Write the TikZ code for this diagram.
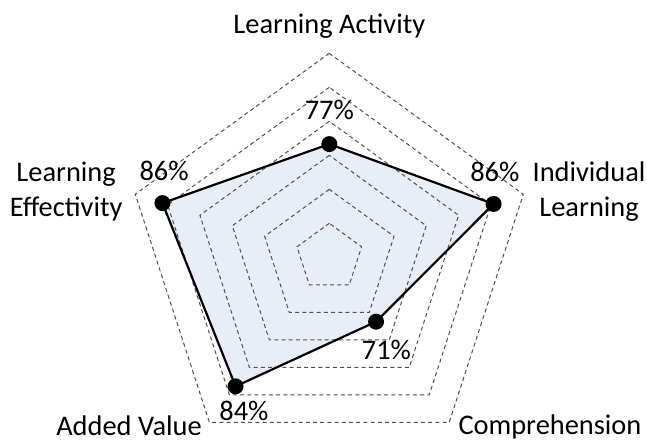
\documentclass[tikz,border=0pt]{standalone}
\usepackage{fontspec}
\setmainfont{Carlito}
\usepackage{tikz}
\usetikzlibrary{positioning}

\definecolor{areablue}{RGB}{232,237,248}
\definecolor{ringgray}{RGB}{80,80,80}

\begin{document}
\begin{tikzpicture} [x=17pt,y=17pt,
		ring/.style={draw=ringgray,line width=0.5pt,dash pattern=on 2pt off 1.6pt},
		area/.style={draw=black,line width=1.1pt,line join=miter},
		dot/.style={circle,fill=black,inner sep=0pt,minimum size=8pt},
		lbl/.style={font=\fontsize{14.2}{17.5}\selectfont,inner sep=0pt,align=center}]
		
		\useasboundingbox (-9.685,-5.403) rectangle (9.344,7.568);
		
		% Values on the axes
		\coordinate (pAct) at (90:3.33);	% learning activity
		\coordinate (pInd) at (18:5.08);	% individual learning
		\coordinate (pCom) at (306:2.34);	% comprehension
		\coordinate (pAdd) at (234:4.69);	% added value
		\coordinate (pEff) at (162:5.16);	% learning effectivity
		
		% Filled area (under the rings)
		\fill [areablue] (pAct) -- (pInd) -- (pCom) -- (pAdd) -- (pEff) -- cycle;
		
		% Rings - one per level
		\draw [ring] (90:1) -- (162:1) -- (234:1) -- (306:1) -- (18:1) -- cycle; % level 1
		\draw [ring] (90:2) -- (162:2) -- (234:2) -- (306:2) -- (18:2) -- cycle; % level 2
		\draw [ring] (90:3) -- (162:3) -- (234:3) -- (306:3) -- (18:3) -- cycle; % level 3
		\draw [ring] (90:4) -- (162:4) -- (234:4) -- (306:4) -- (18:4) -- cycle; % level 4
		\draw [ring] (90:5) -- (162:5) -- (234:5) -- (306:5) -- (18:5) -- cycle; % level 5
		\draw [ring] (90:6) -- (162:6) -- (234:6) -- (306:6) -- (18:6) -- cycle; % level 6 (outer)
		
		% Outline
		\draw [area] (pAct) -- (pInd) -- (pCom) -- (pAdd) -- (pEff) -- cycle;
		
		% Dots
		\node [dot] (dAct) at (pAct) {};
		\node [dot] (dInd) at (pInd) {};
		\node [dot] (dCom) at (pCom) {};
		\node [dot] (dAdd) at (pAdd) {};
		\node [dot] (dEff) at (pEff) {};
		
		% Labels for axes
		\node [lbl,anchor=base] (lAct) at (0,6.59) {Learning Activity};
		\node [lbl] (lInd) at (7.64,1.94) {Individual\\Learning};
		\node [lbl,anchor=base] (lCom) at (6.49,-5.20) {Comprehension};
		\node [lbl,anchor=base] (lAdd) at (-5.89,-5.23) {Added Value};
		\node [lbl] (lEff) at (-7.74,1.94) {Learning\\Effectivity};
		
		% Labels for values
		\node [lbl,anchor=base] (vAct) at (0,4.04) {77\%};
		\node [lbl,anchor=base] (vInd) at (4.87,2.22) {86\%};
		\node [lbl,anchor=base] (vCom) at (1.68,-3.0) {71\%};
		\node [lbl,anchor=base] (vAdd) at (-2.51,-4.79) {84\%};
		\node [lbl,anchor=base] (vEff) at (-4.86,2.27) {86\%};
		\end{tikzpicture}
\end{document}
